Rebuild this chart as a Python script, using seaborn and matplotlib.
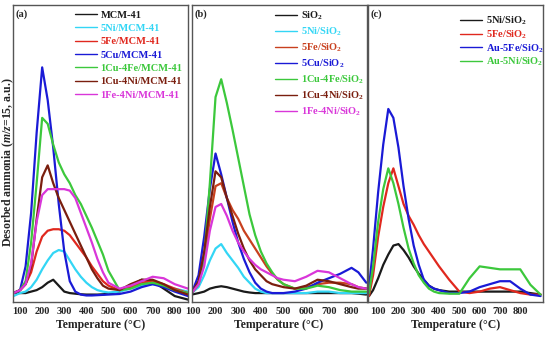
import numpy as np
import pandas as pd
import matplotlib
matplotlib.use("Agg")
import matplotlib.pyplot as plt
import seaborn as sns

# ---- data (arbitrary units 0-100 over axis height) ----
temp_a = [70, 100, 125, 150, 175, 200, 225, 250, 275, 300, 325, 350, 375, 400,
          425, 450, 475, 500, 550, 600, 650, 700, 750, 800, 860]
mcm41 = [3, 3, 3, 3.5, 4, 5, 6.5, 7.5, 5.5, 3.5, 3, 2.8, 2.6, 2.5,
         2.5, 2.5, 2.6, 2.8, 3.5, 5.5, 7.5, 7, 4.5, 2, 0.8]
ni5_mcm = [2, 3, 3.5, 5, 7.5, 11, 14, 16.5, 17.5, 17, 14, 11, 8.5, 6.5,
           5, 4, 3.5, 3.2, 3.5, 4.5, 5.5, 6, 5.5, 4.5, 3.5]
fe5_mcm = [3, 4, 6, 10, 17, 22, 24, 24.5, 24.5, 24, 22.5, 20, 17.5, 15,
           12, 9.5, 7, 5.5, 4, 5, 6.5, 7, 6, 4.5, 3]
cu5_mcm = [3, 4, 12, 30, 57, 79, 68, 52, 33, 17, 7, 3.5, 2.5, 2.2,
           2.2, 2.3, 2.4, 2.5, 2.7, 3.5, 5, 6, 5, 3.5, 2]
cu1fe4_mcm = [3, 4, 7, 20, 40, 62, 60, 53, 47, 43, 40, 36, 33, 29,
              25, 20.5, 16, 10.5, 4, 4.5, 6, 6.5, 5.5, 4, 3]
cu1ni4_mcm = [3, 4, 6, 12, 28, 42, 46, 40, 35, 31, 27, 23, 19, 15,
              11, 8, 5.5, 4.5, 4, 6, 7.5, 7.5, 6, 4, 2.5]
fe1ni4_mcm = [3, 4, 6, 13, 27, 36, 38, 38, 38, 38, 37.5, 35, 30, 25,
              20, 14.5, 10, 6.5, 4.5, 5.5, 7, 8.5, 8, 6, 4.5]

temp_b = [95, 125, 150, 175, 200, 225, 250, 275, 300, 325, 350, 375, 400,
          425, 450, 475, 500, 550, 600, 650, 700, 750, 800, 830, 865]
sio2 = [2.5, 3, 3.5, 4.5, 5, 5.3, 5, 4.5, 4, 3.5, 3.2, 3, 3,
        3, 3, 3, 3, 3, 3, 3, 3, 3, 3, 2.8, 2.5]
ni5_si = [3, 5, 9, 14, 18, 19.5, 16.5, 14, 11.5, 8.5, 6.5, 4.5, 3.5,
          3, 3, 3, 3, 3, 3, 3.5, 3.5, 3, 3, 3, 3]
fe5_si = [3, 6, 14, 28, 39, 40, 35, 31, 28, 24, 21, 18, 15,
          12, 9.5, 7.5, 6, 4.5, 5, 6, 6.5, 6.5, 6, 5, 4.5]
cu5_si = [3, 9, 22, 38, 50, 43, 35, 27, 20, 14.5, 10, 6.5, 4.5,
          3.5, 3, 3, 3, 3.5, 4.5, 6.5, 8, 9.5, 11.5, 10, 6.5]
cu1fe4_si = [3, 6, 15, 40, 69, 75, 67, 58, 48.5, 39, 29.5, 22.5, 17,
             13, 10, 7.5, 6, 4.5, 4.5, 5.5, 5, 4, 3.5, 3.5, 3.5]
cu1ni4_si = [3, 7, 17, 32, 44, 42, 35, 29, 23, 18, 14, 11, 9,
             7, 6, 5.5, 5, 4.5, 5.5, 7.5, 7, 6, 5, 4.5, 4.5]
fe1ni4_si = [3, 6, 12, 24, 32, 33, 29, 24, 20, 17, 14.5, 12.5, 11,
             10, 9, 8, 7.5, 7, 8.5, 10.5, 10, 8, 6, 5, 4.5]

temp_c = [55, 75, 100, 125, 150, 175, 200, 225, 250, 275, 300, 325, 350,
          375, 400, 450, 500, 550, 600, 650, 700, 750, 800, 850, 900]
ni5_c = [2, 4, 8, 12.5, 16, 19, 19.5, 17.5, 15, 12, 9.5, 7.5, 5.5,
         4.5, 4, 3.5, 3.5, 3.5, 3.5, 3.5, 3.5, 3.5, 3.5, 3, 2.5]
fe5_c = [2, 9, 22, 32, 40, 45, 39, 33, 29, 26, 22.5, 19.5, 17,
         14.5, 12, 7.5, 3.5, 3, 3.5, 4.5, 5, 4, 3, 2.5, 2.5]
au_fe5_c = [5, 18, 37, 53, 65, 62, 52, 39, 28, 19, 12.5, 7.5, 5.5,
            4.5, 4, 3, 3, 3.5, 5, 6, 7, 7, 4.5, 2.5, 2]
au_ni5_c = [3, 12, 27, 38, 45, 40, 33, 25, 18, 13, 9, 6.5, 4.5,
            3.5, 3, 2.8, 2.8, 8, 12, 11.5, 11, 11, 11, 5.8, 2.5]

tick_vals = [100, 200, 300, 400, 500, 600, 700, 800]

# ---- styling ----
sns.set_theme(style="white")
plt.rcParams['font.family'] = ['Liberation Serif', 'DejaVu Serif']
plt.rcParams['font.weight'] = 'bold'
plt.rcParams['mathtext.fontset'] = 'custom'
plt.rcParams['mathtext.rm'] = 'Liberation Serif:bold'
plt.rcParams['mathtext.it'] = 'Liberation Serif:italic:bold'
plt.rcParams['mathtext.bf'] = 'Liberation Serif:bold'

BLACK = "#1a1a1a"
CYAN = "#33d6f5"
RED = "#e0281e"
BLUE = "#1a1ad6"
GREEN = "#3cc83c"
BROWN = "#7a1e0e"
MAGENTA = "#d936d9"

panels = [
    dict(tag="(a)", temp=temp_a, xlim=(68, 860), leg_x=0.354, leg_y=0.982, spacing=0.39,
         series=[("MCM-41", mcm41, BLACK),
                 ("5Ni/MCM-41", ni5_mcm, CYAN),
                 ("5Fe/MCM-41", fe5_mcm, RED),
                 ("5Cu/MCM-41", cu5_mcm, BLUE),
                 ("1Cu-4Fe/MCM-41", cu1fe4_mcm, GREEN),
                 ("1Cu-4Ni/MCM-41", cu1ni4_mcm, BROWN),
                 ("1Fe-4Ni/MCM-41", fe1ni4_mcm, MAGENTA)]),
    dict(tag="(b)", temp=temp_b, xlim=(94, 866), leg_x=0.478, leg_y=0.985, spacing=0.34,
         series=[("SiO$_2$", sio2, BLACK),
                 ("5Ni/SiO$_2$", ni5_si, CYAN),
                 ("5Fe/SiO$_2$", fe5_si, "#c8401e"),
                 ("5Cu/SiO$_2$", cu5_si, BLUE),
                 ("1Cu-4Fe/SiO$_2$", cu1fe4_si, GREEN),
                 ("1Cu-4Ni/SiO$_2$", cu1ni4_si, BROWN),
                 ("1Fe-4Ni/SiO$_2$", fe1ni4_si, MAGENTA)]),
    dict(tag="(c)", temp=temp_c, xlim=(50, 912), leg_x=0.526, leg_y=0.968, spacing=0.12,
         series=[("5Ni/SiO$_2$", ni5_c, BLACK),
                 ("5Fe/SiO$_2$", fe5_c, RED),
                 ("Au-5Fe/SiO$_2$", au_fe5_c, BLUE),
                 ("Au-5Ni/SiO$_2$", au_ni5_c, GREEN)]),
]

fig = plt.figure(figsize=(5.5, 3.37), dpi=100)
lefts = [13 / 550, 191.5 / 550, 368 / 550]
width = 175 / 550
bottom = 35 / 337
height = 297 / 337

for left, p in zip(lefts, panels):
    ax = fig.add_axes([left, bottom, width, height])
    for name, vals, col in p["series"]:
        df = pd.DataFrame({"T": p["temp"], "v": vals})
        sns.lineplot(data=df, x="T", y="v", ax=ax, color=col, lw=1.6,
                     estimator=None, sort=False, label=name)
    ax.set_xlim(*p["xlim"])
    ax.set_ylim(0, 100)
    ax.set_xticks(tick_vals)
    ax.set_xticklabels([str(t) for t in tick_vals], fontsize=7.5, fontweight='bold')
    ax.set_yticks([])
    ax.tick_params(axis='x', direction='in', length=2, pad=3.5, color="#444444")
    ax.set_xlabel("Temperature (°C)", fontsize=8.5, fontweight='bold', labelpad=2.5)
    ax.set_ylabel("")
    for s in ax.spines.values():
        s.set_color("#555555")
        s.set_linewidth(1.0)
    ax.text(0.015, 0.985, p["tag"], transform=ax.transAxes, fontsize=7.5,
            fontweight='bold', ha='left', va='top')
    leg = ax.legend(loc='upper left', bbox_to_anchor=(p["leg_x"], p["leg_y"]),
                    frameon=False, fontsize=7.5, handlelength=2.1, handletextpad=0.35,
                    labelspacing=p["spacing"], borderpad=0, borderaxespad=0,
                    labelcolor='linecolor')
    for line in leg.get_lines():
        line.set_linewidth(1.0)

fig.text(8 / 550, 1 - 162 / 337, "Desorbed ammonia ($m/z$=15, a.u.)",
         rotation=90, ha='center', va='center', fontsize=8.5, fontweight='bold')

fig.savefig("out.png", dpi=100)
